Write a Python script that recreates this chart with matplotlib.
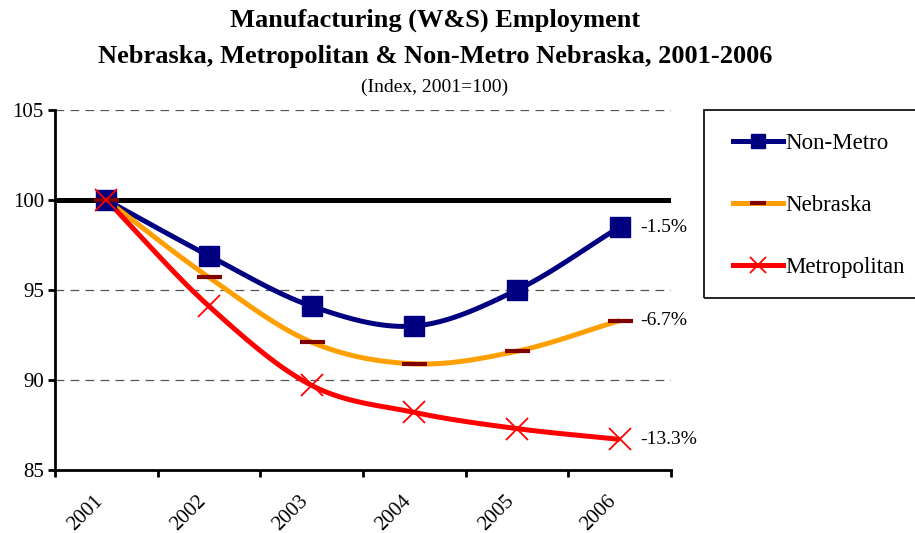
import numpy as np
import matplotlib
matplotlib.use("Agg")
import matplotlib.pyplot as plt
from matplotlib.lines import Line2D
from matplotlib.patches import Rectangle
from matplotlib.transforms import blended_transform_factory, ScaledTranslation

plt.rcParams['font.family'] = ['Liberation Serif', 'DejaVu Serif']

years = ["2001", "2002", "2003", "2004", "2005", "2006"]
non_metro = [100.0, 96.9, 94.1, 93.0, 95.0, 98.5]
nebraska = [100.0, 95.7, 92.1, 90.9, 91.6, 93.3]
metro = [100.0, 94.1, 89.7, 88.2, 87.3, 86.7]
end_labels = ["-1.5%", "-6.7%", "-13.3%"]
series_names = ["Non-Metro", "Nebraska", "Metropolitan"]


def smooth(xs, ys, n=20):
    """Catmull-Rom spline through the data points (Excel-like smoothing)."""
    xs = np.asarray(xs, float)
    ys = np.asarray(ys, float)
    px = np.concatenate([[2 * xs[0] - xs[1]], xs, [2 * xs[-1] - xs[-2]]])
    py = np.concatenate([[2 * ys[0] - ys[1]], ys, [2 * ys[-1] - ys[-2]]])
    outx, outy = [], []
    t = np.linspace(0, 1, n, endpoint=False)
    for i in range(1, len(px) - 2):
        def cr(a0, a1, a2, a3):
            return 0.5 * ((2 * a1) + (-a0 + a2) * t + (2 * a0 - 5 * a1 + 4 * a2 - a3) * t ** 2
                          + (-a0 + 3 * a1 - 3 * a2 + a3) * t ** 3)
        outx.extend(cr(px[i - 1], px[i], px[i + 1], px[i + 2]))
        outy.extend(cr(py[i - 1], py[i], py[i + 1], py[i + 2]))
    outx.append(xs[-1])
    outy.append(ys[-1])
    return np.array(outx), np.array(outy)


W, H = 915, 533
fig = plt.figure(figsize=(W / 100, H / 100), dpi=100)
ax = fig.add_axes([55 / W, 1 - 470 / H, (671 - 55) / W, (470 - 110) / H])

x = np.arange(len(years))
ax.set_xlim(-0.5, len(years) - 0.5)
ax.set_ylim(85, 105)

# gridlines
for g in [90, 95, 105]:
    ax.axhline(g, color='#555555', lw=0.9, ls=(0, (7, 5)), zorder=1)
ax.axhline(100, color='black', lw=3.6, zorder=2)

navy = '#000080'
orange = '#FFA000'
red = '#FF0000'

sx, sy = smooth(x, non_metro)
ax.plot(sx, sy, color=navy, lw=3.6, zorder=3, solid_capstyle='butt')
sx, sy = smooth(x, nebraska)
ax.plot(sx, sy, color=orange, lw=3.6, zorder=3, solid_capstyle='butt')
sx, sy = smooth(x, metro)
ax.plot(sx, sy, color=red, lw=3.6, zorder=3, solid_capstyle='butt')

ax.plot(x, non_metro, ls='none', marker='s', ms=14, color=navy, zorder=4)
ax.plot(x, nebraska, ls='none', marker='_', ms=18, mew=3, color='#800000', zorder=5)
ax.plot(x, metro, ls='none', marker='x', ms=16, mew=1.3, color=red, zorder=6)

for val, lab in zip([non_metro[-1], nebraska[-1], metro[-1]], end_labels):
    ax.annotate(lab, (x[-1], val), xytext=(15, 0), textcoords='offset points',
                va='center', ha='left', fontsize=14)

# axes styling
for s in ['top', 'right']:
    ax.spines[s].set_visible(False)
ax.spines['left'].set_linewidth(2)
ax.spines['bottom'].set_linewidth(2)
ax.set_yticks([85, 90, 95, 100, 105])
ax.tick_params(axis='y', direction='out', length=5, width=2, labelsize=15, pad=3)
ax.set_xticks(np.arange(-0.5, len(years), 1.0))
ax.set_xticklabels([])
ax.tick_params(axis='x', which='major', direction='out', length=5, width=2)

# category labels (rotated), placed under each category centre
trans = blended_transform_factory(ax.transData, ax.transAxes) + \
    ScaledTranslation(-6 / 100, -28 / 100, fig.dpi_scale_trans)
for xi, yr in zip(x, years):
    ax.text(xi, 0, yr, transform=trans, rotation=45, rotation_mode='anchor',
            ha='right', va='center', fontsize=15, clip_on=False)

# titles
fig.text(435 / W, 1 - 20 / H, "Manufacturing (W&S) Employment", ha='center', va='center',
         fontsize=19, fontweight='bold')
fig.text(435 / W, 1 - 57 / H, "Nebraska, Metropolitan & Non-Metro Nebraska, 2001-2006",
         ha='center', va='center', fontsize=19, fontweight='bold')
fig.text(435 / W, 1 - 87 / H, "(Index, 2001=100)", ha='center', va='center', fontsize=14)

# legend box (right edge runs off the figure as in the reference)
fig.patches.append(Rectangle((704 / W, 1 - 298 / H), (940 - 704) / W, (298 - 110) / H,
                             transform=fig.transFigure, fill=False, edgecolor='black', lw=1.2))
handles = [
    Line2D([], [], color=navy, lw=3.6, marker='s', ms=10),
    Line2D([], [], color=orange, lw=3.6, marker='_', ms=12, mew=3, mec='#800000'),
    Line2D([], [], color=red, lw=3.6, marker='x', ms=12, mew=1.3, mec=red),
]
leg = fig.legend(handles, series_names, loc='upper left', bbox_to_anchor=(733 / W, 1 - 133 / H),
                 frameon=False, fontsize=16.5, handlelength=2.2, handletextpad=0.1,
                 labelspacing=1.78, borderpad=0, borderaxespad=0)

fig.savefig("out.png", dpi=100)
